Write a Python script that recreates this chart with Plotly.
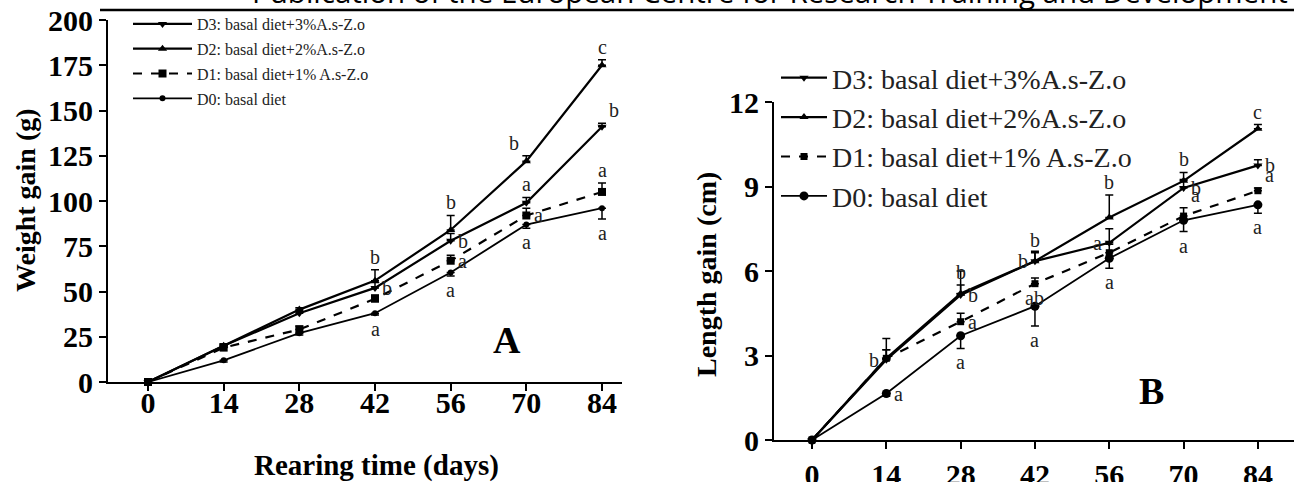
import plotly.graph_objects as go

W, H = 1294, 482

days = [0, 14, 28, 42, 56, 70, 84]
series_names = ["D3: basal diet+3%A.s-Z.o", "D2: basal diet+2%A.s-Z.o",
                "D1: basal diet+1% A.s-Z.o", "D0: basal diet"]

# Panel A: weight gain (g)
wD3 = [0, 20, 38, 52, 78, 99, 141]
wD2 = [0, 20, 40, 56, 84, 122, 175]
wD1 = [0, 19, 29, 46, 67, 92, 105]
wD0 = [0, 12, 27, 38, 60.5, 87, 96]
wD3_err = [0, 1, 1, 3, 4, 3, 2]
wD2_err = [0, 1, 1, 6, 8, 3, 3]
wD1_err = [0, 1, 2, 2, 3, 4, 5]
wD0_err = [0, 1, 1, 1, 2, 2, 6]

# Panel B: length gain (cm)
lD3 = [0, 2.85, 5.15, 6.35, 7.0, 8.95, 9.75]
lD2 = [0, 2.9, 5.2, 6.35, 7.9, 9.2, 11.05]
lD1 = [0, 2.9, 4.2, 5.55, 6.65, 7.95, 8.85]
lD0 = [0, 1.65, 3.7, 4.75, 6.45, 7.8, 8.35]
lD3_err = [0, 0.75, 0.85, 0.35, 0.5, 0.3, 0.2]
lD2_err = [0, 0.3, 0.3, 0.3, 0.8, 0.3, 0.15]
lD1_err = [0, 0.3, 0.3, 0.2, 0.3, 0.3, 0.1]
lD0_err = [0, 0.1, 0.45, 0.7, 0.35, 0.4, 0.3]

# significance letters and where they sit relative to the point
wD3_let = [None, None, None, "b", "b", "a", "b"]
wD3_pos = [None, None, None, "r", "r", "u", "ur"]
wD2_let = [None, None, None, "b", "b", "b", "c"]
wD2_pos = [None, None, None, "u", "u", "ul", "u"]
wD1_let = [None, None, None, None, "a", "a", "a"]
wD1_pos = [None, None, None, None, "r", "r", "u"]
wD0_let = [None, None, None, "a", "a", "a", "a"]
wD0_pos = [None, None, None, "d", "d", "d", "d"]

lD3_let = [None, "b", "b", "b", "a", "b", "b"]
lD3_pos = [None, "l", "r", "l", "l", "r", "r"]
lD2_let = [None, None, "b", "b", "b", "b", "c"]
lD2_pos = [None, None, "u", "u", "u", "u", "u"]
lD1_let = [None, None, "a", "ab", None, "a", "a"]
lD1_pos = [None, None, "r", "d", None, "ur", "ur"]
lD0_let = [None, "a", "a", "a", "a", "a", "a"]
lD0_pos = [None, "r", "d", "d", "d", "d", "d"]

symbols = ["triangle-down", "triangle-up", "square", "circle"]
dashes = ["solid", "solid", "dash", "solid"]
widths = [2.2, 2.2, 2.2, 1.8]
msizes_A = [8, 8, 8, 6]
msizes_B = [8, 8, 7, 9]
err_up = [True, True, True, False]

serif = "Liberation Serif"
fig = go.Figure()

panels = [
    dict(xa="x", ya="y", leg="legend", vals=[wD3, wD2, wD1, wD0],
         errs=[wD3_err, wD2_err, wD1_err, wD0_err],
         lets=[wD3_let, wD2_let, wD1_let, wD0_let],
         poss=[wD3_pos, wD2_pos, wD1_pos, wD0_pos], ms=msizes_A),
    dict(xa="x2", ya="y2", leg="legend2", vals=[lD3, lD2, lD1, lD0],
         errs=[lD3_err, lD2_err, lD1_err, lD0_err],
         lets=[lD3_let, lD2_let, lD1_let, lD0_let],
         poss=[lD3_pos, lD2_pos, lD1_pos, lD0_pos], ms=msizes_B),
]

annotations = []
for pi, p in enumerate(panels):
    for i in range(4):
        vals, errs = p["vals"][i], p["errs"][i]
        up = err_up[i]
        fig.add_trace(go.Scatter(
            x=days, y=vals, name=series_names[i], mode="lines+markers",
            xaxis=p["xa"], yaxis=p["ya"], legend=p["leg"],
            legendgroup=f"p{pi}s{i}",
            line=dict(color="black", width=widths[i], dash=dashes[i]),
            marker=dict(symbol=symbols[i], size=p["ms"][i], color="black"),
            error_y=dict(type="data", symmetric=False,
                         array=errs if up else [0] * len(errs),
                         arrayminus=[0] * len(errs) if up else errs,
                         color="black", thickness=1.5, width=4),
            cliponaxis=False,
        ))
        for d, v, e, t, pos in zip(days, vals, errs, p["lets"][i], p["poss"][i]):
            if t is None:
                continue
            yv, xs, ys = v, 0, 0
            if "u" in pos:
                yv = v + (e if up else 0)
                ys = 13
            if "d" in pos:
                yv = v - (0 if up else e)
                ys = -14
            if "r" in pos:
                xs = 12
            if "l" in pos:
                xs = -12
            annotations.append(dict(
                x=d, y=yv, xref=p["xa"], yref=p["ya"], text=t, showarrow=False,
                xshift=xs, yshift=ys,
                font=dict(family=serif, size=20, color="#222")))

# panel letters
annotations.append(dict(x=66.5, y=23, xref="x", yref="y", text="A", showarrow=False,
                        font=dict(family=serif, size=38, color="black", weight="bold")))
annotations.append(dict(x=64, y=1.75, xref="x2", yref="y2", text="B", showarrow=False,
                        font=dict(family=serif, size=38, color="black", weight="bold")))

# axis titles
title_font = dict(family=serif, size=28, color="black", weight="bold")
annotations.append(dict(x=25 / W, y=1 - 200 / H, xref="paper", yref="paper",
                        xanchor="center", yanchor="middle",
                        text="Weight gain (g)", textangle=-90, showarrow=False,
                        font=title_font))
annotations.append(dict(x=376 / W, y=1 - 465 / H, xref="paper", yref="paper",
                        xanchor="center", yanchor="middle",
                        text="Rearing time (days)", showarrow=False,
                        font=dict(family=serif, size=29, color="black", weight="bold")))
annotations.append(dict(x=706 / W, y=1 - 275 / H, xref="paper", yref="paper",
                        xanchor="center", yanchor="middle",
                        text="Length gain (cm)", textangle=-90, showarrow=False,
                        font=title_font))
# page header (cut off at top)
annotations.append(dict(x=1290 / W, y=1 - 14 / H, xref="paper", yref="paper",
                        xanchor="right", yanchor="bottom",
                        text="Publication of the European Centre for Research Training and Development",
                        showarrow=False,
                        font=dict(family="Open Sans", size=29.5, color="black")))

tickfont = dict(family=serif, size=30, color="black", weight="bold")
axis_common = dict(showline=True, linecolor="black", linewidth=2, ticks="outside",
                   ticklen=7, tickwidth=2, tickcolor="black", showgrid=False,
                   zeroline=False, tickfont=tickfont, automargin=False)

fig.update_layout(
    template="none",
    width=W, height=H, margin=dict(l=0, r=0, t=0, b=0, autoexpand=False),
    paper_bgcolor="white", plot_bgcolor="white",
    xaxis=dict(domain=[108 / W, 622 / W], range=[-7.4, 87.7], anchor="y",
               tickvals=days, ticklabelstandoff=-14, **axis_common),
    yaxis=dict(domain=[(H - 382) / H, (H - 20) / H], range=[0, 200], anchor="x",
               dtick=25, **axis_common),
    xaxis2=dict(domain=[774 / W, 1.0], range=[-7.16, 90.8], anchor="y2",
                tickvals=days, ticklabelstandoff=0, **axis_common),
    yaxis2=dict(domain=[(H - 440) / H, (H - 102) / H], range=[0, 12], anchor="x2",
                dtick=3, **axis_common),
    legend=dict(x=128 / W, y=1 - 7 / H, xanchor="left", yanchor="top",
                bgcolor="rgba(0,0,0,0)", font=dict(family=serif, size=16, color="#222"),
                tracegroupgap=1, itemwidth=59, traceorder="grouped"),
    legend2=dict(x=776 / W, y=1 - 53 / H, xanchor="left", yanchor="top",
                 bgcolor="rgba(0,0,0,0)", font=dict(family=serif, size=28, color="#222"),
                 tracegroupgap=0, itemwidth=46, traceorder="grouped"),
    annotations=annotations,
    shapes=[dict(type="line", xref="paper", yref="paper", x0=100 / W, x1=1.0,
                 y0=1 - 10 / H, y1=1 - 10 / H, layer="above",
                 line=dict(color="black", width=2.5))],
    showlegend=True,
)

fig.write_html("out.html", config={"displayModeBar": False},
               post_script="document.body.style.margin='0px';")
